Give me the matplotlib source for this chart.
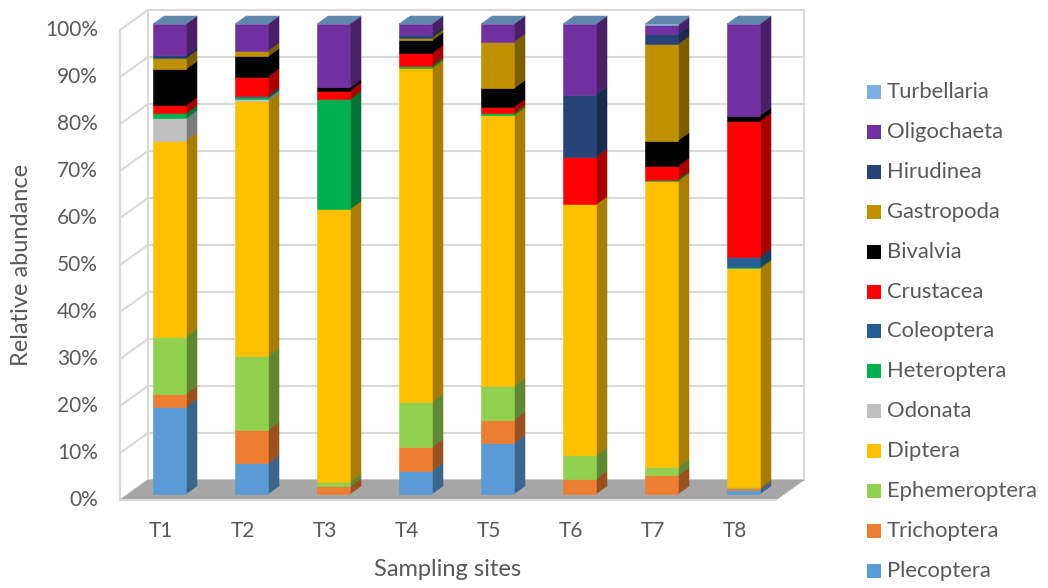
import matplotlib
matplotlib.use("Agg")
import matplotlib.pyplot as plt
from matplotlib.patches import Polygon, Rectangle
import numpy as np

# ---- data -------------------------------------------------------------
sites = ["T1", "T2", "T3", "T4", "T5", "T6", "T7", "T8"]

# stacking order, bottom to top
taxa = ["Plecoptera", "Trichoptera", "Ephemeroptera", "Diptera", "Odonata",
        "Heteroptera", "Coleoptera", "Crustacea", "Bivalvia", "Gastropoda",
        "Hirudinea", "Oligochaeta", "Turbellaria"]

# relative abundance (%) per site, one list per taxon
plecoptera    = [18.5, 6.5, 0.0, 5.0, 10.8, 0.0, 0.0, 0.9]
trichoptera   = [2.8, 7.1, 1.6, 5.0, 5.0, 3.2, 4.0, 0.3]
ephemeroptera = [12.2, 15.7, 1.0, 9.6, 7.2, 5.0, 1.7, 0.2]
diptera       = [41.7, 54.3, 58.0, 71.0, 57.6, 53.4, 60.9, 46.6]
odonata       = [4.7, 0.5, 0.0, 0.0, 0.0, 0.0, 0.0, 0.0]
heteroptera   = [1.1, 0.3, 23.4, 0.5, 0.4, 0.0, 0.3, 0.2]
coleoptera    = [0.0, 0.3, 0.0, 0.0, 0.0, 0.0, 0.0, 2.3]
crustacea     = [1.7, 4.1, 1.8, 2.7, 1.3, 10.1, 2.9, 28.9]
bivalvia      = [7.7, 4.3, 0.7, 2.7, 4.0, 0.0, 5.4, 1.1]
gastropoda    = [2.3, 1.2, 0.0, 0.6, 9.9, 0.0, 20.5, 0.0]
hirudinea     = [0.6, 0.0, 0.0, 0.6, 0.0, 13.3, 2.1, 0.0]
oligochaeta   = [6.7, 5.7, 13.5, 2.3, 3.8, 15.0, 1.9, 19.5]
turbellaria   = [0.0, 0.0, 0.0, 0.0, 0.0, 0.0, 0.3, 0.0]

values = [plecoptera, trichoptera, ephemeroptera, diptera, odonata,
          heteroptera, coleoptera, crustacea, bivalvia, gastropoda,
          hirudinea, oligochaeta, turbellaria]

colors = ["#5b9bd5", "#ed7d31", "#92d050", "#ffc000", "#bfbfbf",
          "#00b050", "#255e91", "#ff0000", "#000000", "#bf9000",
          "#264478", "#7030a0", "#7cafdd"]

ytick_labels = ["0%", "10%", "20%", "30%", "40%", "50%",
                "60%", "70%", "80%", "90%", "100%"]

# ---- style ------------------------------------------------------------
TEXT = "#595959"
GRID = "#d9d9d9"
FLOOR = "#a6a6a6"
TOP = "#5f88ac"
FONT = "Lato"

W, H = 1048, 588
fig = plt.figure(figsize=(W / 100, H / 100), dpi=100)
fig.patch.set_facecolor("white")

# front plane of the 3-D box
left_px, right_px, top_px, bot_px = 120, 776, 30, 500
ax = fig.add_axes([left_px / W, 1 - bot_px / H,
                   (right_px - left_px) / W, (bot_px - top_px) / H])
ax.set_xlim(-0.5, len(sites) - 0.5)
ax.set_ylim(0, 100)
ax.axis("off")

# oblique depth offset (data units for a full unit of depth)
px_x = (right_px - left_px) / len(sites)
px_y = (bot_px - top_px) / 100.0
DX = 28 / px_x
DY = 20 / px_y


def P(x, v, d):
    return (x + d * DX, v + d * DY)


def poly(pts, fc, z, ec=None, lw=0.4):
    ax.add_patch(Polygon(pts, closed=True, facecolor=fc,
                         edgecolor=ec if ec else fc, linewidth=lw,
                         zorder=z, clip_on=False, joinstyle="miter"))


def shade(c, k=0.65):
    r, g, b = matplotlib.colors.to_rgb(c)
    return (r * k, g * k, b * k)


x0, x1 = -0.5, len(sites) - 0.5
glw = 1.5

# back wall: outline and gridlines
for t in range(0, 101, 10):
    a, b = P(x0, t, 1), P(x1, t, 1)
    ax.plot([a[0], b[0]], [a[1], b[1]], color=GRID, lw=glw, zorder=1,
            clip_on=False, solid_capstyle="projecting")
    # side wall gridlines
    c = P(x0, t, 0)
    ax.plot([a[0], c[0]], [a[1], c[1]], color=GRID, lw=glw, zorder=1,
            clip_on=False)
for xx in (x0, x1):
    a, b = P(xx, 0, 1), P(xx, 100, 1)
    ax.plot([a[0], b[0]], [a[1], b[1]], color=GRID, lw=glw, zorder=1,
            clip_on=False)
a, b = P(x0, 0, 0), P(x0, 100, 0)
ax.plot([a[0], b[0]], [a[1], b[1]], color=GRID, lw=glw, zorder=1,
        clip_on=False)

# floor
poly([P(x0, 0, 0), P(x1, 0, 0), P(x1, 0, 1), P(x0, 0, 1)], FLOOR, 2)
ax.plot([P(x0, 0, 0)[0], P(x1, 0, 0)[0]], [0, 0], color=GRID, lw=glw,
        zorder=2, clip_on=False)

# stacked 3-D columns
hw = 0.2
d0, d1 = 0.3, 0.7
for i in range(len(sites)):
    base = 0.0
    for k, ser in enumerate(values):
        v = ser[i]
        if v <= 0:
            continue
        top = base + v
        front = [P(i - hw, base, d0), P(i + hw, base, d0),
                 P(i + hw, top, d0), P(i - hw, top, d0)]
        side = [P(i + hw, base, d0), P(i + hw, base, d1),
                P(i + hw, top, d1), P(i + hw, top, d0)]
        poly(side, shade(colors[k]), 3)
        poly(front, colors[k], 4)
        base = top
    cap = [P(i - hw, base, d0), P(i + hw, base, d0),
           P(i + hw, base, d1), P(i - hw, base, d1)]
    poly(cap, TOP, 5)

# y tick labels
for t, lab in zip(range(0, 101, 10), ytick_labels):
    ax.text(-0.5 - 22 / px_x, t, lab, ha="right", va="center",
            fontsize=15, color=TEXT, family=FONT)

# category labels
for i, s in enumerate(sites):
    ax.text(i, -31 / px_y, s, ha="center", va="center",
            fontsize=15, color=TEXT, family=FONT)

# axis titles
ax.text(3.5, -70 / px_y, "Sampling sites", ha="center", va="center",
        fontsize=17, color=TEXT, family=FONT)
ax.text(-0.5 - 98 / px_x, 50, "Relative abundance", ha="center",
        va="center", rotation=90, fontsize=17, color=TEXT, family=FONT)

# legend (top entry = last series)
leg_y0, leg_dy = 92, 39.9
for j, k in enumerate(range(len(taxa) - 1, -1, -1)):
    yc = leg_y0 + j * leg_dy
    fig.patches.append(Rectangle((867 / W, 1 - (yc + 7) / H), 14 / W, 14 / H,
                                 transform=fig.transFigure,
                                 facecolor=colors[k], edgecolor="none"))
    fig.text(887 / W, 1 - yc / H, taxa[k], ha="left", va="center",
             fontsize=15.8, color=TEXT, family=FONT)

fig.savefig("out.png", dpi=100, facecolor="white")
